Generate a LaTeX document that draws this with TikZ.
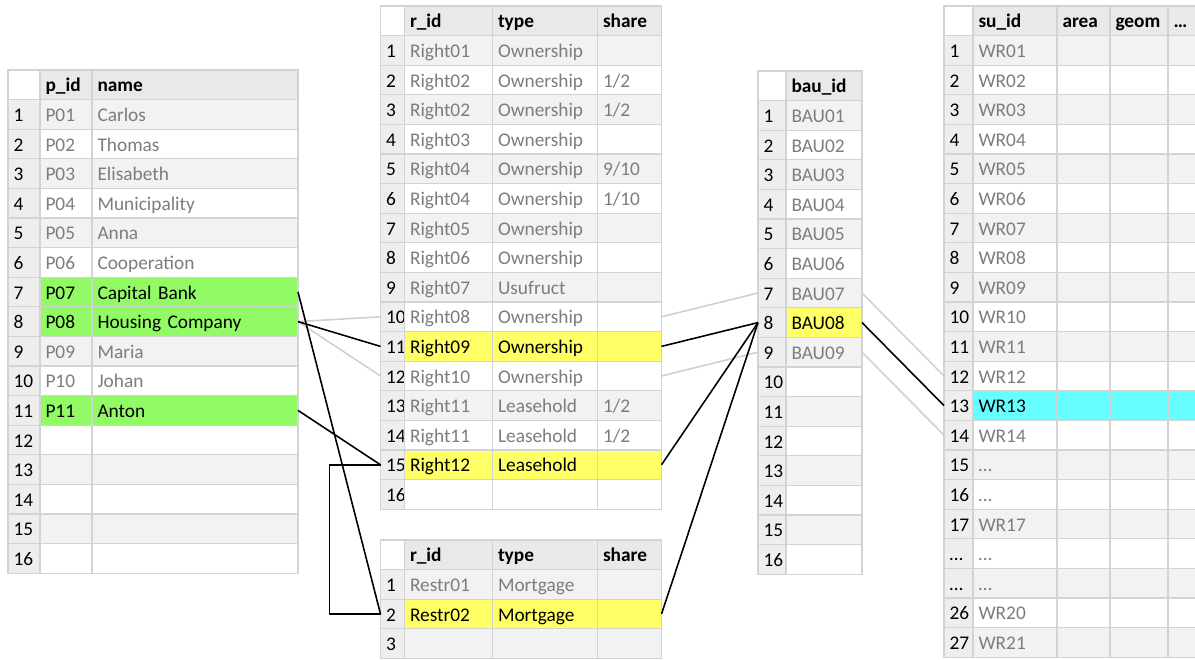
\documentclass[tikz,border=0pt]{standalone}
\usepackage{fontspec}
\setmainfont{Carlito}
\usetikzlibrary{positioning}
\definecolor{gridgray}{RGB}{211, 211, 211}
\definecolor{rowgray}{RGB}{242, 242, 242}
\definecolor{headgray}{RGB}{233, 233, 233}
\definecolor{numgray}{RGB}{238, 238, 238}
\definecolor{textgray}{RGB}{125, 125, 125}
\definecolor{linkgray}{RGB}{208, 208, 208}
\definecolor{markgreen}{RGB}{145, 250, 100}
\definecolor{markyellow}{RGB}{255, 255, 102}
\definecolor{markcyan}{RGB}{102, 255, 255}
\tikzset{
  cell/.style={rectangle, draw=gridgray, line width=0.6pt, outer sep=0pt, anchor=north west,
    minimum height=0.592cm, inner xsep=0.11cm, inner ysep=0pt, text height=10pt, text depth=2pt,
    align=left, font=\fontsize{11}{13}\selectfont},
  colw/.style={minimum width=#1cm, text width=#1cm-0.22cm},
  numcell/.style={cell, fill=numgray, text=black},
  headcell/.style={cell, fill=headgray, font=\fontsize{11}{13}\selectfont\bfseries},
  cornercell/.style={cell, fill=white},
  rowodd/.style={fill=rowgray, text=textgray},
  roweven/.style={fill=white, text=textgray},
  rowgreen/.style={fill=markgreen, text=black},
  rowyellow/.style={fill=markyellow, text=black},
  rowcyan/.style={fill=markcyan, text=black},
  link/.style={line width=0.9pt, black},
  faintlink/.style={line width=0.9pt, linkgray}
}

\begin{document}
\begin{tikzpicture}
    \path[use as bounding box, clip] (0,0) rectangle (23.9,-13.2);

    % persons
    \node[cornercell, colw=0.64] (p-0-0) at (0.16,-1.40) {};
    \node[headcell, colw=1.04, right=0pt of p-0-0] (p-0-1) {p\_id};
    \node[headcell, colw=4.12, right=0pt of p-0-1] (p-0-2) {name};
    \foreach \pid/\pname/\kind [count=\i] in {P01/Carlos/rowodd, P02/Thomas/roweven,
        P03/Elisabeth/rowodd, P04/Municipality/roweven, P05/Anna/rowodd, P06/Cooperation/roweven,
        P07/Capital Bank/rowgreen, P08/Housing Company/rowgreen, P09/Maria/rowodd,
        P10/Johan/roweven, P11/Anton/rowgreen, //roweven, //rowodd, //roweven, //rowodd, //roweven}{
      \node[numcell, colw=0.64] (p-\i-0) at (0.16, {-1.40-0.592*\i}) {\i};
      \node[cell, colw=1.04, \kind, right=0pt of p-\i-0] (p-\i-1) {\pid};
      \node[cell, colw=4.12, \kind, right=0pt of p-\i-1] (p-\i-2) {\pname};
    }

    % rights
    \node[cornercell, colw=0.48] (r-0-0) at (7.61,-0.12) {};
    \node[headcell, colw=1.76, right=0pt of r-0-0] (r-0-1) {r\_id};
    \node[headcell, colw=2.10, right=0pt of r-0-1] (r-0-2) {type};
    \node[headcell, colw=1.28, right=0pt of r-0-2] (r-0-3) {share};
    \foreach \rid/\rtype/\rshare/\kind [count=\i] in {Right01/Ownership//rowodd,
        Right02/Ownership/{1/2}/roweven, Right02/Ownership/{1/2}/rowodd, Right03/Ownership//roweven,
        Right04/Ownership/{9/10}/rowodd, Right04/Ownership/{1/10}/roweven, Right05/Ownership//rowodd,
        Right06/Ownership//roweven, Right07/Usufruct//rowodd, Right08/Ownership//roweven,
        Right09/Ownership//rowyellow, Right10/Ownership//roweven, Right11/Leasehold/{1/2}/rowodd,
        Right11/Leasehold/{1/2}/roweven, Right12/Leasehold//rowyellow, ///roweven}{
      \node[numcell, colw=0.48] (r-\i-0) at (7.61, {-0.12-0.592*\i}) {\i};
      \node[cell, colw=1.76, \kind, right=0pt of r-\i-0] (r-\i-1) {\rid};
      \node[cell, colw=2.10, \kind, right=0pt of r-\i-1] (r-\i-2) {\rtype};
      \node[cell, colw=1.28, \kind, right=0pt of r-\i-2] (r-\i-3) {\rshare};
    }

    % restrictions
    \node[cornercell, colw=0.48] (q-0-0) at (7.61,-10.80) {};
    \node[headcell, colw=1.76, right=0pt of q-0-0] (q-0-1) {r\_id};
    \node[headcell, colw=2.10, right=0pt of q-0-1] (q-0-2) {type};
    \node[headcell, colw=1.28, right=0pt of q-0-2] (q-0-3) {share};
    \foreach \qid/\qtype/\kind [count=\i] in {Restr01/Mortgage/rowodd, Restr02/Mortgage/rowyellow, //rowodd}{
      \node[numcell, colw=0.48] (q-\i-0) at (7.61, {-10.80-0.592*\i}) {\i};
      \node[cell, colw=1.76, \kind, right=0pt of q-\i-0] (q-\i-1) {\qid};
      \node[cell, colw=2.10, \kind, right=0pt of q-\i-1] (q-\i-2) {\qtype};
      \node[cell, colw=1.28, \kind, right=0pt of q-\i-2] (q-\i-3) {};
    }

    % buildings
    \node[cornercell, colw=0.56] (b-0-0) at (15.16,-1.42) {};
    \node[headcell, colw=1.52, right=0pt of b-0-0] (b-0-1) {bau\_id};
    \foreach \bid/\kind [count=\i] in {BAU01/rowodd, BAU02/roweven, BAU03/rowodd, BAU04/roweven,
        BAU05/rowodd, BAU06/roweven, BAU07/rowodd, BAU08/rowyellow, BAU09/rowodd, /roweven,
        /rowodd, /roweven, /rowodd, /roweven, /rowodd, /roweven}{
      \node[numcell, colw=0.56] (b-\i-0) at (15.16, {-1.42-0.592*\i}) {\i};
      \node[cell, colw=1.52, \kind, right=0pt of b-\i-0] (b-\i-1) {\bid};
    }

    % spatial units
    \node[cornercell, colw=0.58] (s-0-0) at (18.88,-0.12) {};
    \node[headcell, colw=1.68, right=0pt of s-0-0] (s-0-1) {su\_id};
    \node[headcell, colw=1.06, right=0pt of s-0-1] (s-0-2) {area};
    \node[headcell, colw=1.16, right=0pt of s-0-2] (s-0-3) {geom};
    \node[headcell, colw=0.90, right=0pt of s-0-3] (s-0-4) {\dots};
    \foreach \lab/\sid/\kind [count=\i] in {1/WR01/rowodd, 2/WR02/roweven, 3/WR03/rowodd,
        4/WR04/roweven, 5/WR05/rowodd, 6/WR06/roweven, 7/WR07/rowodd, 8/WR08/roweven,
        9/WR09/rowodd, 10/WR10/roweven, 11/WR11/rowodd, 12/WR12/roweven, 13/WR13/rowcyan,
        14/WR14/roweven, 15/\dots/rowodd, 16/\dots/roweven, 17/WR17/rowodd,
        \dots/\dots/roweven, \dots/\dots/rowodd, 26/WR20/roweven, 27/WR21/rowodd}{
      \node[numcell, colw=0.58] (s-\i-0) at (18.88, {-0.12-0.592*\i}) {\lab};
      \node[cell, colw=1.68, \kind, right=0pt of s-\i-0] (s-\i-1) {\sid};
      \node[cell, colw=1.06, \kind, right=0pt of s-\i-1] (s-\i-2) {};
      \node[cell, colw=1.16, \kind, right=0pt of s-\i-2] (s-\i-3) {};
      \node[cell, colw=0.90, \kind, right=0pt of s-\i-3] (s-\i-4) {};
    }

    % persons -> rights
    \draw[faintlink] (p-8-2.east) -- (r-10-0.west);
    \draw[faintlink] (p-8-2.east) -- (r-12-0.west);
    \draw[link] (p-8-2.east) -- (r-11-0.west);
    \draw[link] (p-11-2.east) -- (r-15-0.west);
    \draw[link] (p-7-2.east) -- (q-2-0.west);
    \draw[link] (r-15-0.west) -- ++(-1.02,0) |- (q-2-0.west);

    % rights -> buildings
    \draw[faintlink] (r-10-3.east) -- (b-7-0.west);
    \draw[faintlink] (r-12-3.east) -- (b-9-0.west);
    \draw[link] (r-11-3.east) -- (b-8-0.west);
    \draw[link] (r-15-3.east) -- (b-8-0.west);
    \draw[link] (q-2-3.east) -- (b-8-0.west);

    % buildings -> spatial units
    \draw[faintlink] (b-7-1.east) -- (s-12-0.west);
    \draw[faintlink] (b-9-1.east) -- (s-14-0.west);
    \draw[link] (b-8-1.east) -- (s-13-0.west);
\end{tikzpicture}
\end{document}
